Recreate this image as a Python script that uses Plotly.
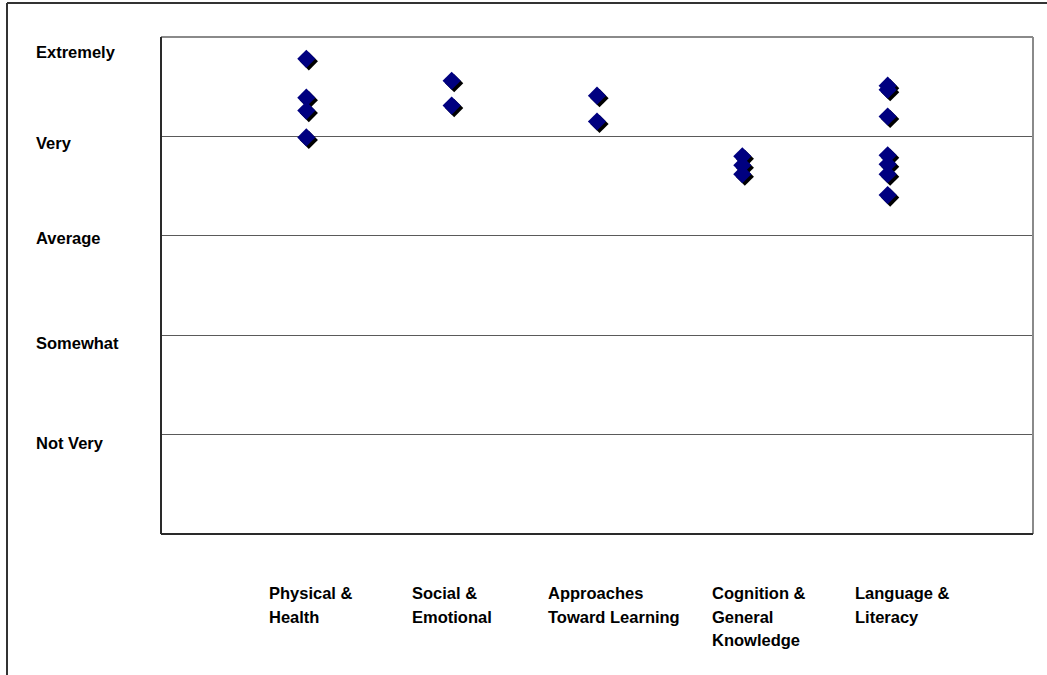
import plotly.graph_objects as go

# ---------------- data ----------------
categories = ["Physical &\nHealth", "Social &\nEmotional", "Approaches\nToward Learning",
              "Cognition &\nGeneral\nKnowledge", "Language &\nLiteracy"]
physical = [4.78, 4.39, 4.26, 3.99]
social = [4.56, 4.31]
approaches = [4.41, 4.15]
cognition = [3.80, 3.71, 3.62]
language = [4.51, 4.47, 4.20, 3.81, 3.72, 3.62, 3.41]
series = [physical, social, approaches, cognition, language]

level_labels = ["Extremely", "Very", "Average", "Somewhat", "Not Very"]

# ---------------- layout constants ----------------
W, H = 1047, 675
L, R, T, B = 161, 1033, 37, 534
XMAX, YMAX = 6, 5
pw, ph = R - L, B - T
FONT = "Liberation Sans, Arial, sans-serif"
FS = 16.5

def pxx(p):
    return (p - L) / pw

def pxy(p):
    return (B - p) / ph

xs, ys = [], []
for i, vals in enumerate(series):
    xs += [i + 1] * len(vals)
    ys += vals

# shadow offset (pixels -> data units)
sdx = 2.5 * XMAX / pw
sdy = 2.5 * YMAX / ph

fig = go.Figure()
fig.add_trace(go.Scatter(
    x=[x + sdx for x in xs], y=[y - sdy for y in ys], mode="markers",
    marker=dict(symbol="diamond", size=14, color="#000000", line=dict(width=0)),
    hoverinfo="skip", showlegend=False))
fig.add_trace(go.Scatter(
    x=xs, y=ys, mode="markers",
    marker=dict(symbol="diamond", size=14, color="#000080", line=dict(width=0)),
    showlegend=False))

annotations = []
# y level labels (left aligned text boxes)
label_y_px = [52, 143, 238, 343, 443]
for lab, yp in zip(level_labels, label_y_px):
    annotations.append(dict(
        text="<b>%s</b>" % lab, xref="paper", yref="paper", x=pxx(34), y=pxy(yp),
        xanchor="left", yanchor="middle", showarrow=False,
        font=dict(family=FONT, size=FS, color="#000000")))

# category labels (left aligned multi-line text boxes)
cat_left_px = [267, 410, 546, 710, 853]
line_y_px = [593, 617, 640]
for cat, lp in zip(categories, cat_left_px):
    for j, line in enumerate(cat.split("\n")):
        annotations.append(dict(
            text="<b>%s</b>" % line, xref="paper", yref="paper", x=pxx(lp), y=pxy(line_y_px[j]),
            xanchor="left", yanchor="middle", showarrow=False,
            font=dict(family=FONT, size=FS, color="#000000")))

shapes = [
    # plot frame: light top/right, dark left/bottom
    dict(type="line", xref="paper", yref="paper", x0=0, x1=1, y0=1, y1=1,
         line=dict(color="#8a8a8a", width=2), layer="above"),
    dict(type="line", xref="paper", yref="paper", x0=1, x1=1, y0=0, y1=1,
         line=dict(color="#8a8a8a", width=2), layer="above"),
    dict(type="line", xref="paper", yref="paper", x0=0, x1=0, y0=0, y1=1,
         line=dict(color="#2a2a2a", width=2), layer="above"),
    dict(type="line", xref="paper", yref="paper", x0=0, x1=1, y0=0, y1=0,
         line=dict(color="#2a2a2a", width=2), layer="above"),
    # outer chart frame (top and left)
    dict(type="line", xref="paper", yref="paper", x0=pxx(7), x1=pxx(W + 5), y0=pxy(3), y1=pxy(3),
         line=dict(color="#333333", width=2), layer="above"),
    dict(type="line", xref="paper", yref="paper", x0=pxx(7), x1=pxx(7), y0=pxy(3), y1=pxy(H + 5),
         line=dict(color="#333333", width=2), layer="above"),
]

fig.update_layout(
    width=W, height=H,
    margin=dict(l=L, r=W - R, t=T, b=H - B, pad=0),
    paper_bgcolor="white", plot_bgcolor="white",
    xaxis=dict(range=[0, XMAX], showgrid=False, zeroline=False, showticklabels=False,
               ticks="", showline=False, fixedrange=True),
    yaxis=dict(range=[0, YMAX], tickvals=[1, 2, 3, 4], showgrid=True, gridcolor="#5a5a5a",
               gridwidth=1, zeroline=False, showticklabels=False, ticks="", showline=False,
               fixedrange=True),
    annotations=annotations,
    shapes=shapes,
    showlegend=False,
)

fig.write_html("out.html")
